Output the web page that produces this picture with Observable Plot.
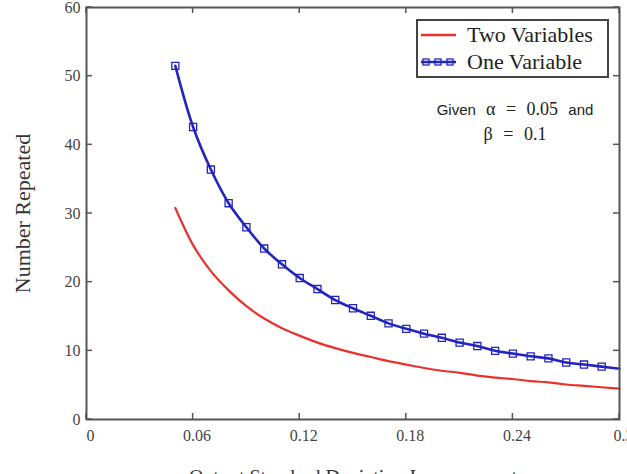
<!DOCTYPE html>
<html>
<head>
<meta charset="utf-8">
<script src="https://cdn.jsdelivr.net/npm/d3@7"></script>
<script src="https://cdn.jsdelivr.net/npm/@observablehq/plot@0.6"></script>
<style>
  html, body { margin: 0; padding: 0; background: #fff; }
  #wrap { position: relative; width: 627px; height: 474px; overflow: hidden; }
  #legend { position: absolute; left: 416px; top: 19px; width: 189px; height: 55px;
            border: 2px solid #444; background: #fff; font-family: "Liberation Serif", "Times New Roman", serif;
            font-size: 22px; color: #222; }
  .row { position: absolute; left: 0; height: 26px; display: flex; align-items: center; }
  .row svg { display: block; margin-left: 3px; margin-right: 10px; }
  #note { position: absolute; left: 415px; top: 97px; width: 200px; text-align: center; white-space: nowrap;
          font-family: "Liberation Sans", Arial, sans-serif; font-size: 15px; color: #222; line-height: 25px; word-spacing: 6px; }
  .ser { font-family: "Liberation Serif", "Times New Roman", serif; font-size: 18px; }
</style>
</head>
<body>
<div id="wrap">
  <div id="chart"></div>
  <div id="legend">
    <div class="row" style="top:1px">
      <svg width="36" height="10"><line x1="0" y1="5" x2="35" y2="5" stroke="#e8322e" stroke-width="2.5"/></svg>
      <span>Two Variables</span>
    </div>
    <div class="row" style="top:28px">
      <svg width="36" height="10">
        <line x1="0" y1="5" x2="35" y2="5" stroke="#2323c0" stroke-width="2.5"/>
        <rect x="2" y="2" width="6" height="6" fill="none" stroke="#2323c0" stroke-width="1.3"/>
        <rect x="14" y="2" width="6" height="6" fill="none" stroke="#2323c0" stroke-width="1.3"/>
        <rect x="26" y="2" width="6" height="6" fill="none" stroke="#2323c0" stroke-width="1.3"/>
      </svg>
      <span>One Variable</span>
    </div>
  </div>
  <div id="note">Given <span class="ser">&alpha; = 0.05</span> and<br><span class="ser">&beta; = 0.1</span></div>
</div>
<script>
// Data
const sigma = [0.05,0.06,0.07,0.08,0.09,0.10,0.11,0.12,0.13,0.14,0.15,0.16,0.17,0.18,0.19,0.20,0.21,0.22,0.23,0.24,0.25,0.26,0.27,0.28,0.29,0.30];
const oneVariable = [51.5,42.6,36.4,31.5,28.0,24.9,22.6,20.6,19.0,17.4,16.2,15.1,14.0,13.2,12.5,11.9,11.2,10.7,10.0,9.6,9.2,8.9,8.3,8.0,7.7,7.4];
const twoVariables = [30.8,25.4,21.6,18.8,16.5,14.7,13.3,12.2,11.2,10.4,9.7,9.1,8.5,8.0,7.5,7.1,6.8,6.4,6.1,5.9,5.6,5.4,5.1,4.9,4.7,4.5];
const xTicks = [0, 0.06, 0.12, 0.18, 0.24, 0.3];
const yTicks = [0, 10, 20, 30, 40, 50, 60];
const xTitle = "Output Standard Deviation Improvement";
const yTitle = "Number Repeated";

const one = sigma.map((s, i) => ({x: s, y: oneVariable[i]}));
const two = sigma.map((s, i) => ({x: s, y: twoVariables[i]}));
const oneMarkers = one.filter(d => d.x < 0.295);

const frameColor = "#555";
const tickLen = 6; // pixels
const chart = Plot.plot({
  width: 627,
  height: 490,
  marginLeft: 86,
  marginRight: 8,
  marginTop: 7,
  marginBottom: 71,
  style: {fontFamily: "'Liberation Serif', 'Times New Roman', serif", fontSize: "16px", color: "#444", background: "#fff"},
  x: {domain: [0, 0.3]},
  y: {domain: [0, 60]},
  marks: [
    Plot.line(two, {x: "x", y: "y", stroke: "#e8322e", strokeWidth: 2.2, curve: "catmull-rom"}),
    Plot.line(one, {x: "x", y: "y", stroke: "#2323c0", strokeWidth: 2.6, curve: "catmull-rom"}),
    Plot.dot(oneMarkers, {x: "x", y: "y", symbol: "square", r: 4, stroke: "#2323c0", strokeWidth: 1.3, fill: "none"}),
    // inward ticks on all four sides
    Plot.tickX(xTicks, {x: d => d, render: (index, scales, values, dims) => {
      const g = d3.create("svg:g");
      for (const i of index) {
        const x = values.x[i];
        g.append("line").attr("x1", x).attr("x2", x).attr("y1", dims.height - dims.marginBottom).attr("y2", dims.height - dims.marginBottom - tickLen).attr("stroke", frameColor).attr("stroke-width", 1.5);
        g.append("line").attr("x1", x).attr("x2", x).attr("y1", dims.marginTop).attr("y2", dims.marginTop + tickLen).attr("stroke", frameColor).attr("stroke-width", 1.5);
      }
      return g.node();
    }}),
    Plot.tickY(yTicks, {y: d => d, render: (index, scales, values, dims) => {
      const g = d3.create("svg:g");
      for (const i of index) {
        const y = values.y[i];
        g.append("line").attr("x1", dims.marginLeft).attr("x2", dims.marginLeft + tickLen).attr("y1", y).attr("y2", y).attr("stroke", frameColor).attr("stroke-width", 1.5);
        g.append("line").attr("x1", dims.width - dims.marginRight).attr("x2", dims.width - dims.marginRight - tickLen).attr("y1", y).attr("y2", y).attr("stroke", frameColor).attr("stroke-width", 1.5);
      }
      return g.node();
    }}),
    Plot.axisX(xTicks, {anchor: "bottom", tickSize: 0, tickPadding: 10, dx: 4, label: null, tickFormat: d => String(d), fill: "#444"}),
    Plot.axisY(yTicks, {anchor: "left", tickSize: 0, tickPadding: 6, label: null, fill: "#444"}),
    Plot.frame({stroke: frameColor, strokeWidth: 2}),
    Plot.text([xTitle], {frameAnchor: "bottom", dy: 64, lineAnchor: "bottom", fontSize: 20, fill: "#333"}),
    Plot.text([yTitle], {frameAnchor: "left", dx: -64, rotate: -90, textAnchor: "middle", fontSize: 22, fill: "#333"})
  ]
});
document.getElementById("chart").appendChild(chart);
</script>
</body>
</html>
